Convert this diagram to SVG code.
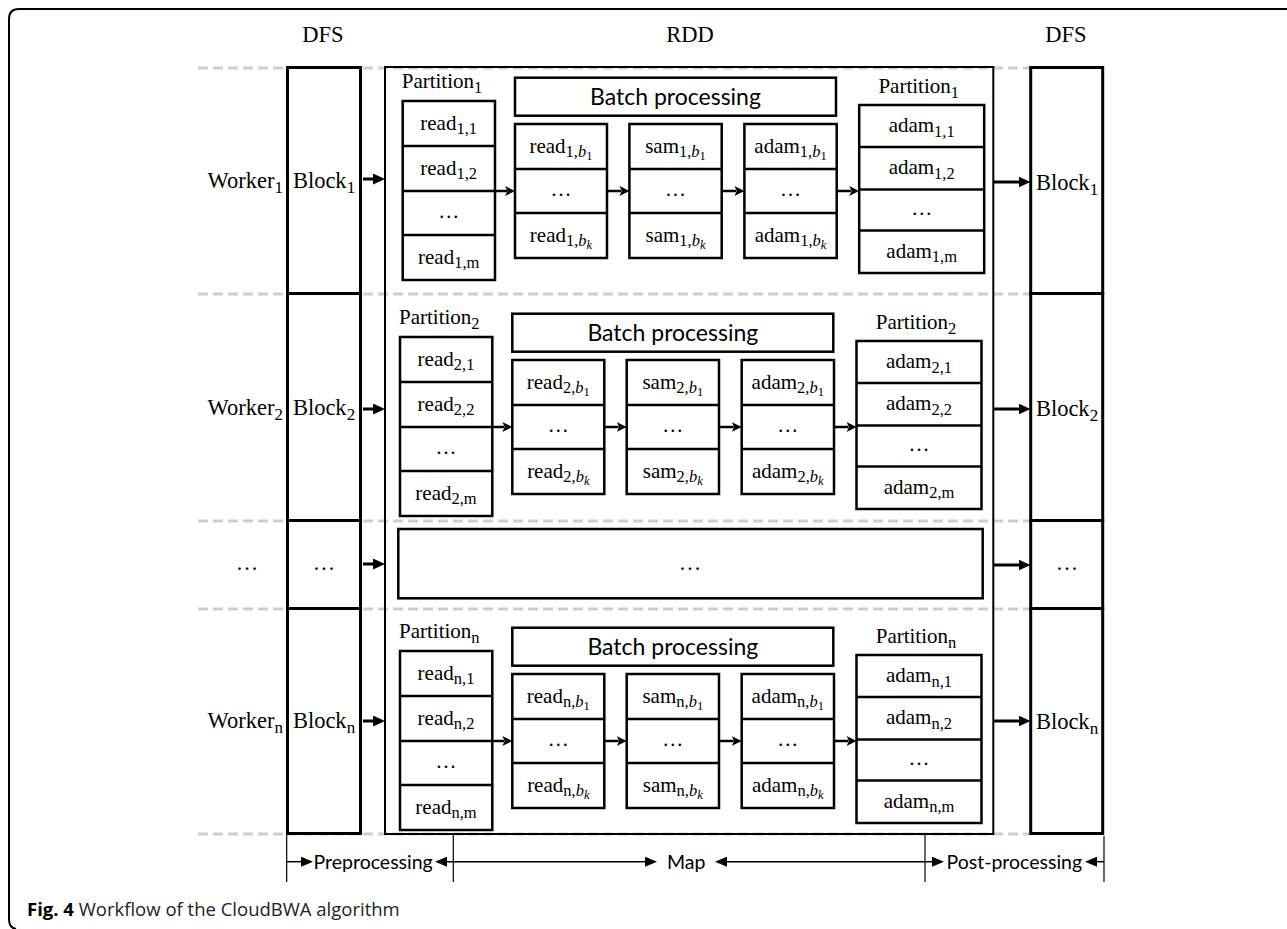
<svg xmlns="http://www.w3.org/2000/svg" width="1287" height="929" viewBox="0 0 1287 929">
<defs>
<style>
.t{font-family:"Liberation Serif","Times New Roman",serif;font-size:21px;fill:#000}
.tl{font-size:22.5px}
.sb{font-size:16.5px}
.sw{font-size:17px}
.bi{font-style:italic}
.ss{font-size:12.5px}
.sans{font-family:Lato,"Open Sans",sans-serif;fill:#000}
.cap{font-family:"Open Sans","Noto Sans",sans-serif;font-size:18.5px;fill:#222}
.m{text-anchor:middle}
.e{text-anchor:end}
.cell{fill:#fff;stroke:#000;stroke-width:2.5}
.dv{stroke:#000;stroke-width:2.5}
.dfs{fill:#fff;stroke:#000;stroke-width:3}
.guide{stroke:#cfcfcf;stroke-width:3;stroke-dasharray:10 5;fill:none}
.arr{stroke:#000;stroke-width:3;fill:none}
.arri{stroke:#000;stroke-width:2.5;fill:none}
.ax{stroke:#000;stroke-width:1.5;fill:none}
.tick{stroke:#000;stroke-width:1.2}
</style>
<marker id="ah" viewBox="0 0 12 11" refX="1" refY="5.5" markerWidth="12" markerHeight="11" markerUnits="userSpaceOnUse" orient="auto"><path d="M0,0 L12,5.5 L0,11 z" fill="#000"/></marker>
<marker id="ai" viewBox="0 0 10 10" refX="2" refY="5" markerWidth="10" markerHeight="10" markerUnits="userSpaceOnUse" orient="auto"><path d="M0,0 L10,5 L0,10 L2.5,5 z" fill="#000"/></marker>
<marker id="ab" viewBox="0 0 12 10" refX="1" refY="5" markerWidth="12" markerHeight="10" markerUnits="userSpaceOnUse" orient="auto-start-reverse"><path d="M0,0 L12,5 L0,10 z" fill="#000"/></marker>
</defs>
<rect width="1287" height="929" fill="#fff"/>
<path id="frame" d="M1287 9 H19 Q9 9 9 19 V919 Q9 928 16 929" fill="none" stroke="#000" stroke-width="2"/>

<g id="guides">
<line class="guide" x1="198" y1="68" x2="1031" y2="68"/>
<line class="guide" x1="198" y1="294" x2="1031" y2="294"/>
<line class="guide" x1="198" y1="521" x2="1031" y2="521"/>
<line class="guide" x1="198" y1="609" x2="1031" y2="609"/>
<line class="guide" x1="198" y1="834" x2="1031" y2="834"/>
</g>

<g id="headers">
<text class="t tl m" x="323" y="42">DFS</text>
<text class="t tl m" x="690" y="42">RDD</text>
<text class="t tl m" x="1066" y="42">DFS</text>
</g>

<g id="workers">
<text class="t tl e" x="283" y="188">Worker<tspan class="sw" dy="5">1</tspan></text>
<text class="t tl e" x="283" y="415">Worker<tspan class="sw" dy="5">2</tspan></text>
<text class="t tl m" x="247" y="570">…</text>
<text class="t tl e" x="283" y="728">Worker<tspan class="sw" dy="5">n</tspan></text>
</g>

<g id="dfs-in">
<g id="dfs-in-1"><rect class="dfs" x="287.5" y="67.5" width="73" height="226"/><text class="t tl m" x="324" y="188">Block<tspan class="sw" dy="5">1</tspan></text></g>
<g id="dfs-in-2"><rect class="dfs" x="287.5" y="293.5" width="73" height="227"/><text class="t tl m" x="324" y="415">Block<tspan class="sw" dy="5">2</tspan></text></g>
<g id="dfs-in-dots"><rect class="dfs" x="287.5" y="520.5" width="73" height="88"/><text class="t tl m" x="324" y="570">…</text></g>
<g id="dfs-in-n"><rect class="dfs" x="287.5" y="608.5" width="73" height="225"/><text class="t tl m" x="324" y="728">Block<tspan class="sw" dy="5">n</tspan></text></g>
</g>

<g id="dfs-out">
<g id="dfs-out-1"><rect class="dfs" x="1030.7" y="67.5" width="72" height="226"/><text class="t tl m" x="1067" y="190">Block<tspan class="sw" dy="5">1</tspan></text></g>
<g id="dfs-out-2"><rect class="dfs" x="1030.7" y="293.5" width="72" height="227"/><text class="t tl m" x="1067" y="416">Block<tspan class="sw" dy="5">2</tspan></text></g>
<g id="dfs-out-dots"><rect class="dfs" x="1030.7" y="520.5" width="72" height="88"/><text class="t tl m" x="1067" y="570">…</text></g>
<g id="dfs-out-n"><rect class="dfs" x="1030.7" y="608.5" width="72" height="225"/><text class="t tl m" x="1067" y="729">Block<tspan class="sw" dy="5">n</tspan></text></g>
</g>

<g id="rdd"><rect x="385" y="67" width="608.3" height="767" fill="none" stroke="#000" stroke-width="2"/></g>

<!-- Row 1 -->
<g id="row1" transform="translate(2.7,0)">
<g id="r1-partition-in">
<text class="t" x="399" y="88">Partition<tspan class="sb" dy="5">1</tspan></text>
<rect class="cell" x="400" y="101" width="92.3" height="179"/>
<line class="dv" x1="400" y1="146" x2="492.3" y2="146"/><line class="dv" x1="400" y1="191" x2="492.3" y2="191"/><line class="dv" x1="400" y1="235" x2="492.3" y2="235"/>
<text class="t m" x="446" y="129.5">read<tspan class="sb" dy="4.5">1,1</tspan></text>
<text class="t m" x="446" y="174.5">read<tspan class="sb" dy="4.5">1,2</tspan></text>
<text class="t m" x="446" y="218">…</text>
<text class="t m" x="446" y="263.5">read<tspan class="sb" dy="4.5">1,m</tspan></text>
</g>
<g id="r1-batch"><rect class="cell" x="512.3" y="77.7" width="321" height="38"/><text class="sans m" x="672.8" y="105" font-size="23">Batch processing</text></g>
<g id="r1-reads-b">
<rect class="cell" x="512.3" y="124" width="92" height="134"/>
<line class="dv" x1="512.3" y1="169" x2="604.3" y2="169"/><line class="dv" x1="512.3" y1="213" x2="604.3" y2="213"/>
<text class="t m" x="558.3" y="152.5">read<tspan class="sb" dy="4.5">1,<tspan class="bi">b</tspan><tspan class="ss" dy="3">1</tspan></tspan></text>
<text class="t m" x="558.3" y="196">…</text>
<text class="t m" x="558.3" y="241.5">read<tspan class="sb" dy="4.5">1,<tspan class="bi">b</tspan><tspan class="ss bi" dy="3">k</tspan></tspan></text>
</g>
<g id="r1-sam-b">
<rect class="cell" x="626.7" y="124" width="92.3" height="134"/>
<line class="dv" x1="626.7" y1="169" x2="719" y2="169"/><line class="dv" x1="626.7" y1="213" x2="719" y2="213"/>
<text class="t m" x="672.8" y="152.5">sam<tspan class="sb" dy="4.5">1,<tspan class="bi">b</tspan><tspan class="ss" dy="3">1</tspan></tspan></text>
<text class="t m" x="672.8" y="196">…</text>
<text class="t m" x="672.8" y="241.5">sam<tspan class="sb" dy="4.5">1,<tspan class="bi">b</tspan><tspan class="ss bi" dy="3">k</tspan></tspan></text>
</g>
<g id="r1-adam-b">
<rect class="cell" x="741.7" y="124" width="92.3" height="134"/>
<line class="dv" x1="741.7" y1="169" x2="834" y2="169"/><line class="dv" x1="741.7" y1="213" x2="834" y2="213"/>
<text class="t m" x="787.8" y="152.5">adam<tspan class="sb" dy="4.5">1,<tspan class="bi">b</tspan><tspan class="ss" dy="3">1</tspan></tspan></text>
<text class="t m" x="787.8" y="196">…</text>
<text class="t m" x="787.8" y="241.5">adam<tspan class="sb" dy="4.5">1,<tspan class="bi">b</tspan><tspan class="ss bi" dy="3">k</tspan></tspan></text>
</g>
<g id="r1-partition-out">
<text class="t m" x="916" y="93">Partition<tspan class="sb" dy="5">1</tspan></text>
<rect class="cell" x="856.5" y="105" width="125" height="168"/>
<line class="dv" x1="856.5" y1="147" x2="981.5" y2="147"/><line class="dv" x1="856.5" y1="189.5" x2="981.5" y2="189.5"/><line class="dv" x1="856.5" y1="230.5" x2="981.5" y2="230.5"/>
<text class="t m" x="919" y="132">adam<tspan class="sb" dy="4.5">1,1</tspan></text>
<text class="t m" x="919" y="174">adam<tspan class="sb" dy="4.5">1,2</tspan></text>
<text class="t m" x="919" y="215">…</text>
<text class="t m" x="919" y="257.5">adam<tspan class="sb" dy="4.5">1,m</tspan></text>
</g>
</g>

<!-- Row 2 -->
<g id="row2" transform="translate(0,236)">
<g id="r2-partition-in">
<text class="t" x="399" y="88">Partition<tspan class="sb" dy="5">2</tspan></text>
<rect class="cell" x="400" y="101" width="92.3" height="179"/>
<line class="dv" x1="400" y1="146" x2="492.3" y2="146"/><line class="dv" x1="400" y1="191" x2="492.3" y2="191"/><line class="dv" x1="400" y1="235" x2="492.3" y2="235"/>
<text class="t m" x="446" y="129.5">read<tspan class="sb" dy="4.5">2,1</tspan></text>
<text class="t m" x="446" y="174.5">read<tspan class="sb" dy="4.5">2,2</tspan></text>
<text class="t m" x="446" y="218">…</text>
<text class="t m" x="446" y="263.5">read<tspan class="sb" dy="4.5">2,m</tspan></text>
</g>
<g id="r2-batch"><rect class="cell" x="512.3" y="77.7" width="321" height="38"/><text class="sans m" x="672.8" y="105" font-size="23">Batch processing</text></g>
<g id="r2-reads-b">
<rect class="cell" x="512.3" y="124" width="92" height="134"/>
<line class="dv" x1="512.3" y1="169" x2="604.3" y2="169"/><line class="dv" x1="512.3" y1="213" x2="604.3" y2="213"/>
<text class="t m" x="558.3" y="152.5">read<tspan class="sb" dy="4.5">2,<tspan class="bi">b</tspan><tspan class="ss" dy="3">1</tspan></tspan></text>
<text class="t m" x="558.3" y="196">…</text>
<text class="t m" x="558.3" y="241.5">read<tspan class="sb" dy="4.5">2,<tspan class="bi">b</tspan><tspan class="ss bi" dy="3">k</tspan></tspan></text>
</g>
<g id="r2-sam-b">
<rect class="cell" x="626.7" y="124" width="92.3" height="134"/>
<line class="dv" x1="626.7" y1="169" x2="719" y2="169"/><line class="dv" x1="626.7" y1="213" x2="719" y2="213"/>
<text class="t m" x="672.8" y="152.5">sam<tspan class="sb" dy="4.5">2,<tspan class="bi">b</tspan><tspan class="ss" dy="3">1</tspan></tspan></text>
<text class="t m" x="672.8" y="196">…</text>
<text class="t m" x="672.8" y="241.5">sam<tspan class="sb" dy="4.5">2,<tspan class="bi">b</tspan><tspan class="ss bi" dy="3">k</tspan></tspan></text>
</g>
<g id="r2-adam-b">
<rect class="cell" x="741.7" y="124" width="92.3" height="134"/>
<line class="dv" x1="741.7" y1="169" x2="834" y2="169"/><line class="dv" x1="741.7" y1="213" x2="834" y2="213"/>
<text class="t m" x="787.8" y="152.5">adam<tspan class="sb" dy="4.5">2,<tspan class="bi">b</tspan><tspan class="ss" dy="3">1</tspan></tspan></text>
<text class="t m" x="787.8" y="196">…</text>
<text class="t m" x="787.8" y="241.5">adam<tspan class="sb" dy="4.5">2,<tspan class="bi">b</tspan><tspan class="ss bi" dy="3">k</tspan></tspan></text>
</g>
<g id="r2-partition-out">
<text class="t m" x="916" y="93">Partition<tspan class="sb" dy="5">2</tspan></text>
<rect class="cell" x="856.5" y="105" width="125" height="168"/>
<line class="dv" x1="856.5" y1="147" x2="981.5" y2="147"/><line class="dv" x1="856.5" y1="189.5" x2="981.5" y2="189.5"/><line class="dv" x1="856.5" y1="230.5" x2="981.5" y2="230.5"/>
<text class="t m" x="919" y="132">adam<tspan class="sb" dy="4.5">2,1</tspan></text>
<text class="t m" x="919" y="174">adam<tspan class="sb" dy="4.5">2,2</tspan></text>
<text class="t m" x="919" y="215">…</text>
<text class="t m" x="919" y="257.5">adam<tspan class="sb" dy="4.5">2,m</tspan></text>
</g>
</g>

<!-- Dots row -->
<g id="row-dots"><rect class="cell" x="398.3" y="529" width="584.4" height="69.3"/><text class="t tl m" x="690" y="570">…</text></g>

<!-- Row n -->
<g id="rown" transform="translate(0,550)">
<g id="rn-partition-in">
<text class="t" x="399" y="88">Partition<tspan class="sb" dy="5">n</tspan></text>
<rect class="cell" x="400" y="101" width="92.3" height="179"/>
<line class="dv" x1="400" y1="146" x2="492.3" y2="146"/><line class="dv" x1="400" y1="191" x2="492.3" y2="191"/><line class="dv" x1="400" y1="235" x2="492.3" y2="235"/>
<text class="t m" x="446" y="129.5">read<tspan class="sb" dy="4.5">n,1</tspan></text>
<text class="t m" x="446" y="174.5">read<tspan class="sb" dy="4.5">n,2</tspan></text>
<text class="t m" x="446" y="218">…</text>
<text class="t m" x="446" y="263.5">read<tspan class="sb" dy="4.5">n,m</tspan></text>
</g>
<g id="rn-batch"><rect class="cell" x="512.3" y="77.7" width="321" height="38"/><text class="sans m" x="672.8" y="105" font-size="23">Batch processing</text></g>
<g id="rn-reads-b">
<rect class="cell" x="512.3" y="124" width="92" height="134"/>
<line class="dv" x1="512.3" y1="169" x2="604.3" y2="169"/><line class="dv" x1="512.3" y1="213" x2="604.3" y2="213"/>
<text class="t m" x="558.3" y="152.5">read<tspan class="sb" dy="4.5">n,<tspan class="bi">b</tspan><tspan class="ss" dy="3">1</tspan></tspan></text>
<text class="t m" x="558.3" y="196">…</text>
<text class="t m" x="558.3" y="241.5">read<tspan class="sb" dy="4.5">n,<tspan class="bi">b</tspan><tspan class="ss bi" dy="3">k</tspan></tspan></text>
</g>
<g id="rn-sam-b">
<rect class="cell" x="626.7" y="124" width="92.3" height="134"/>
<line class="dv" x1="626.7" y1="169" x2="719" y2="169"/><line class="dv" x1="626.7" y1="213" x2="719" y2="213"/>
<text class="t m" x="672.8" y="152.5">sam<tspan class="sb" dy="4.5">n,<tspan class="bi">b</tspan><tspan class="ss" dy="3">1</tspan></tspan></text>
<text class="t m" x="672.8" y="196">…</text>
<text class="t m" x="672.8" y="241.5">sam<tspan class="sb" dy="4.5">n,<tspan class="bi">b</tspan><tspan class="ss bi" dy="3">k</tspan></tspan></text>
</g>
<g id="rn-adam-b">
<rect class="cell" x="741.7" y="124" width="92.3" height="134"/>
<line class="dv" x1="741.7" y1="169" x2="834" y2="169"/><line class="dv" x1="741.7" y1="213" x2="834" y2="213"/>
<text class="t m" x="787.8" y="152.5">adam<tspan class="sb" dy="4.5">n,<tspan class="bi">b</tspan><tspan class="ss" dy="3">1</tspan></tspan></text>
<text class="t m" x="787.8" y="196">…</text>
<text class="t m" x="787.8" y="241.5">adam<tspan class="sb" dy="4.5">n,<tspan class="bi">b</tspan><tspan class="ss bi" dy="3">k</tspan></tspan></text>
</g>
<g id="rn-partition-out">
<text class="t m" x="916" y="93">Partition<tspan class="sb" dy="5">n</tspan></text>
<rect class="cell" x="856.5" y="105" width="125" height="168"/>
<line class="dv" x1="856.5" y1="147" x2="981.5" y2="147"/><line class="dv" x1="856.5" y1="189.5" x2="981.5" y2="189.5"/><line class="dv" x1="856.5" y1="230.5" x2="981.5" y2="230.5"/>
<text class="t m" x="919" y="132">adam<tspan class="sb" dy="4.5">n,1</tspan></text>
<text class="t m" x="919" y="174">adam<tspan class="sb" dy="4.5">n,2</tspan></text>
<text class="t m" x="919" y="215">…</text>
<text class="t m" x="919" y="257.5">adam<tspan class="sb" dy="4.5">n,m</tspan></text>
</g>
</g>

<g id="connectors">
<line class="arr" x1="363" y1="179" x2="374" y2="179" marker-end="url(#ah)"/>
<line class="arr" x1="363" y1="409" x2="374" y2="409" marker-end="url(#ah)"/>
<line class="arr" x1="363" y1="564" x2="374" y2="564" marker-end="url(#ah)"/>
<line class="arr" x1="363" y1="721" x2="374" y2="721" marker-end="url(#ah)"/>
<line class="arr" x1="993" y1="182" x2="1019.5" y2="182" marker-end="url(#ah)"/>
<line class="arr" x1="993" y1="409" x2="1019.5" y2="409" marker-end="url(#ah)"/>
<line class="arr" x1="993" y1="565" x2="1019.5" y2="565" marker-end="url(#ah)"/>
<line class="arr" x1="993" y1="721" x2="1019.5" y2="721" marker-end="url(#ah)"/>
<line class="arri" x1="495" y1="191" x2="507" y2="191" marker-end="url(#ai)"/>
<line class="arri" x1="607" y1="191" x2="621.4" y2="191" marker-end="url(#ai)"/>
<line class="arri" x1="721.7" y1="191" x2="736.4" y2="191" marker-end="url(#ai)"/>
<line class="arri" x1="836.7" y1="191" x2="851.2" y2="191" marker-end="url(#ai)"/>
<line class="arri" x1="492.3" y1="427" x2="504.3" y2="427" marker-end="url(#ai)"/>
<line class="arri" x1="604.3" y1="427" x2="618.7" y2="427" marker-end="url(#ai)"/>
<line class="arri" x1="719" y1="427" x2="733.7" y2="427" marker-end="url(#ai)"/>
<line class="arri" x1="834" y1="427" x2="848.5" y2="427" marker-end="url(#ai)"/>
<line class="arri" x1="492.3" y1="741" x2="504.3" y2="741" marker-end="url(#ai)"/>
<line class="arri" x1="604.3" y1="741" x2="618.7" y2="741" marker-end="url(#ai)"/>
<line class="arri" x1="719" y1="741" x2="733.7" y2="741" marker-end="url(#ai)"/>
<line class="arri" x1="834" y1="741" x2="848.5" y2="741" marker-end="url(#ai)"/>
</g>

<g id="phases">
<line class="tick" x1="286.7" y1="835" x2="286.7" y2="882"/>
<line class="tick" x1="453.3" y1="835" x2="453.3" y2="882"/>
<line class="tick" x1="925" y1="835" x2="925" y2="882"/>
<line class="tick" x1="1104" y1="836" x2="1104" y2="882"/>
<line class="ax" x1="287" y1="861.7" x2="302" y2="861.7" marker-end="url(#ab)"/>
<line class="ax" x1="446" y1="861.7" x2="646" y2="861.7" marker-start="url(#ab)" marker-end="url(#ab)"/>
<line class="ax" x1="726" y1="861.7" x2="933" y2="861.7" marker-start="url(#ab)" marker-end="url(#ab)"/>
<line class="ax" x1="1096" y1="861.7" x2="1104" y2="861.7" marker-start="url(#ab)"/>
<text class="sans" x="313.5" y="869" font-size="19.5">Preprocessing</text>
<text class="sans" x="667" y="869" font-size="19.5">Map</text>
<text class="sans" x="946.5" y="869" font-size="19.5">Post-processing</text>
</g>

<text id="caption" class="cap" x="27" y="916"><tspan font-weight="bold" fill="#000">Fig. 4</tspan> Workflow of the CloudBWA algorithm</text>
</svg>
